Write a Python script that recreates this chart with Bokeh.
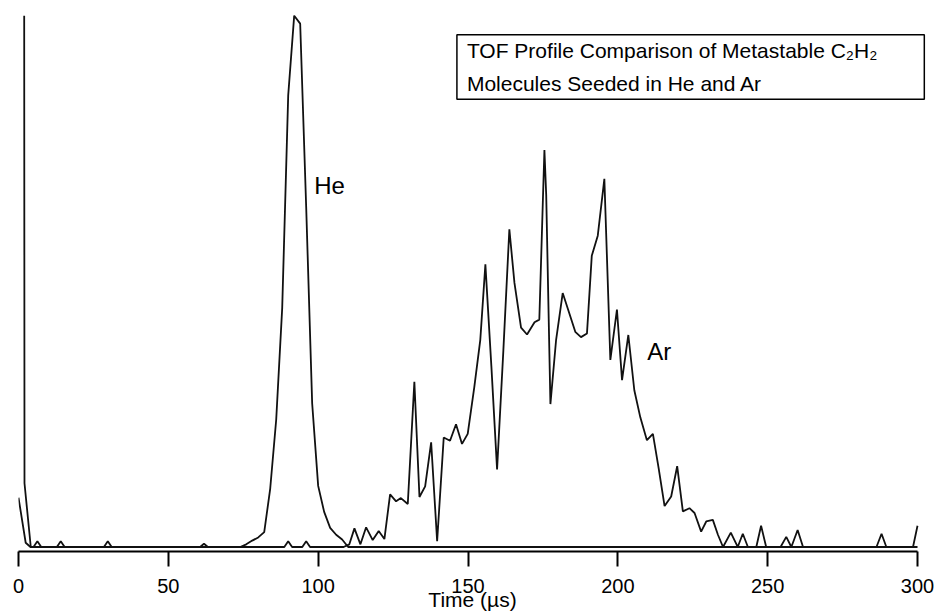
from bokeh.plotting import figure
from bokeh.models import Range1d, FixedTicker, Label, ColumnDataSource
from bokeh.embed import file_html
from bokeh.resources import INLINE

# ---- data (time in microseconds, normalized TOF intensity) ----
he_t = [1.9, 2.0, 4.1, 74, 76, 78, 80, 82, 84, 86, 88, 90, 92, 94, 96, 98,
        100, 102, 104, 106, 108, 110, 300]
he_v = [1.0, 0.12, 0.0, 0.0, 0.005, 0.012, 0.018, 0.028, 0.11, 0.24, 0.45, 0.85,
        1.0, 0.985, 0.64, 0.27, 0.115, 0.066, 0.036, 0.023, 0.014, 0.0, 0.0]

ar_t = [0, 2.4, 4, 5, 6.3, 7.6, 12.8, 14.1, 15.4, 28.5, 29.8, 31.1, 60.6, 61.9, 63.2,
        88.7, 90, 91.3, 94.7, 96, 97.3, 108.5, 110.4, 112.1, 114.1, 116, 118.2, 120.2,
        122.1, 124, 126, 127.6, 129.9, 132.1, 133.8, 135.7, 137.7, 139.7, 141.9, 144,
        146, 148, 149.9, 152.1, 154.1, 155.8, 157.8, 159.7, 161.8, 163.8, 165.5, 167.7,
        169.7, 172.2, 173.8, 175.0, 175.5, 176.1, 177.5, 179.4, 181.6, 183.8, 185.8,
        187.7, 189.7, 191.3, 193.3, 195.5, 197.5, 199.7, 201.4, 203.5, 205.5, 207.5,
        209.7, 211.7, 213.6, 215.6, 217.8, 219.8, 221.7, 223.9, 225.6, 227.8, 229.5,
        231.7, 233.4, 235.1, 237.7, 240, 241.7, 243.4, 246.2, 247.8, 249.5, 254.3,
        256.2, 257.9, 260, 261.8, 286.3, 288, 289.6, 298.5, 300]
ar_v = [0.093, 0.008, 0.0, 0.0, 0.011, 0.0, 0.0, 0.011, 0.0, 0.0, 0.011, 0.0, 0.0, 0.006, 0.0,
        0.0, 0.011, 0.0, 0.0, 0.011, 0.0, 0.0, 0.005, 0.035, 0.005, 0.037, 0.013, 0.030,
        0.015, 0.099, 0.086, 0.092, 0.081, 0.311, 0.094, 0.114, 0.197, 0.011, 0.206, 0.200,
        0.231, 0.194, 0.213, 0.301, 0.390, 0.532, 0.340, 0.146, 0.370, 0.598, 0.497, 0.413,
        0.400, 0.423, 0.428, 0.655, 0.747, 0.662, 0.269, 0.390, 0.478, 0.440, 0.405,
        0.395, 0.402, 0.548, 0.586, 0.693, 0.352, 0.447, 0.314, 0.399, 0.295, 0.244,
        0.201, 0.213, 0.149, 0.077, 0.095, 0.152, 0.067, 0.073, 0.064, 0.029, 0.048,
        0.051, 0.023, 0.0, 0.027, 0.0, 0.025, 0.0, 0.0, 0.040, 0.0, 0.0,
        0.019, 0.0, 0.032, 0.0, 0.0, 0.025, 0.0, 0.0, 0.040]

x_ticks = [0, 50, 100, 150, 200, 250, 300]
x_label = "Time (\u00b5s)"
title_text = "TOF Profile Comparison of Metastable C\u2082H\u2082\nMolecules Seeded in He and Ar"
series_labels = ["He", "Ar"]

FONT = "Liberation Sans"

p = figure(width=937, height=613,
           x_range=Range1d(0, 303), y_range=Range1d(-0.0085, 1.006),
           output_backend="svg", toolbar_location=None, y_axis_location=None,
           min_border_left=18, min_border_right=11, min_border_top=12, min_border_bottom=0)
p.grid.visible = False
p.outline_line_color = None
p.background_fill_color = "white"
p.border_fill_color = "white"

ax = p.xaxis[0]
ax.bounds = (0, 300)
ax.ticker = FixedTicker(ticks=x_ticks)
ax.minor_tick_line_color = None
ax.axis_line_width = 2
ax.axis_line_color = "black"
ax.major_tick_line_width = 2
ax.major_tick_line_color = "black"
ax.major_tick_out = 15
ax.major_tick_in = 0
ax.major_label_text_font = FONT
ax.major_label_text_font_size = "20px"
ax.major_label_text_color = "black"
ax.major_label_standoff = 12
ax.axis_label = x_label
ax.axis_label_text_font = FONT
ax.axis_label_text_font_size = "21px"
ax.axis_label_text_font_style = "normal"
ax.axis_label_text_color = "black"
ax.axis_label_standoff = -8

he_src = ColumnDataSource(dict(t=he_t, v=he_v))
ar_src = ColumnDataSource(dict(t=ar_t, v=ar_v))
p.line("t", "v", source=ar_src, line_color="#111111", line_width=1.8)
p.line("t", "v", source=he_src, line_color="#111111", line_width=1.8)

p.add_layout(Label(x=98.7, y=0.681, text=series_labels[0], text_font=FONT,
                   text_font_size="24px", text_baseline="middle", text_color="black"))
p.add_layout(Label(x=209.8, y=0.368, text=series_labels[1], text_font=FONT,
                   text_font_size="24px", text_baseline="middle", text_color="black"))

p.add_layout(Label(x=146.3, y=0.964, text=title_text, text_font=FONT,
                   text_font_size="21px", text_color="black", anchor="top_left",
                   text_line_height=1.45,
                   padding=dict(left=10, right=47, top=4, bottom=4),
                   border_line_color="black", border_line_width=1.5,
                   background_fill_color="white"))

open("out.html", "w").write(file_html(p, INLINE))
